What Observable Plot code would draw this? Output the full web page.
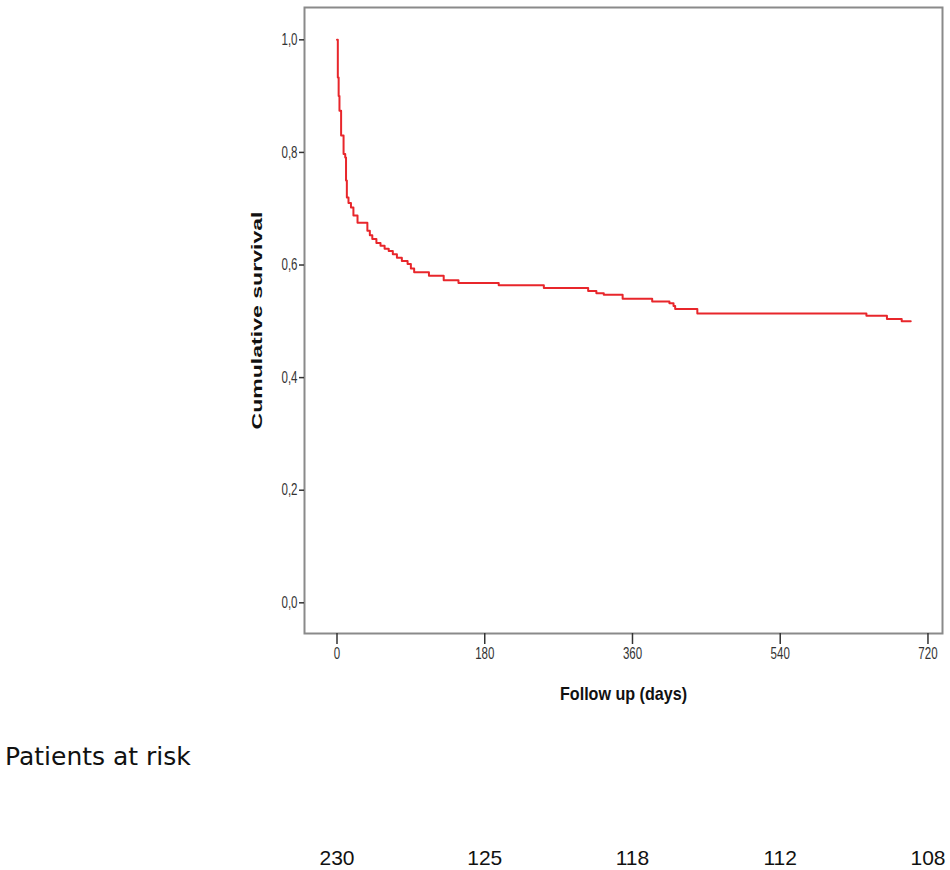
<!DOCTYPE html>
<html><head><meta charset="utf-8">
<script src="https://cdn.jsdelivr.net/npm/d3@7"></script>
<script src="https://cdn.jsdelivr.net/npm/@observablehq/plot@0.6"></script>
<style>
body{margin:0;background:#fff;}
#wrap{position:relative;width:950px;height:870px;overflow:hidden;}
#main{position:absolute;left:0;top:0;}
#risklabel{position:absolute;left:5px;top:744px;font:25px/1 'DejaVu Sans',sans-serif;color:#111;white-space:nowrap;}
#risk{position:absolute;left:0;top:836px;}
</style></head><body>
<div id="wrap"><div id="main"></div><div id="risklabel">Patients at risk</div><div id="risk"></div></div>
<script>
// Kaplan-Meier step points (time in days, cumulative survival from that time on)
const days = [0, 1, 2, 3, 5, 8, 10, 11, 12, 14, 17, 20, 25, 37, 40, 43, 48, 53, 58, 63, 68, 73, 79, 86, 90, 94, 112, 130, 148, 197, 252, 306, 316, 325, 348, 384, 405, 410, 412, 439, 645, 670, 688, 699];
const survival = [1.0, 0.933, 0.90, 0.874, 0.83, 0.797, 0.791, 0.75, 0.72, 0.71, 0.702, 0.688, 0.675, 0.661, 0.653, 0.646, 0.639, 0.634, 0.629, 0.625, 0.619, 0.613, 0.607, 0.602, 0.594, 0.587, 0.581, 0.573, 0.568, 0.564, 0.559, 0.554, 0.550, 0.547, 0.540, 0.535, 0.532, 0.527, 0.522, 0.514, 0.510, 0.504, 0.500, 0.500];
const xTicks = [0, 180, 360, 540, 720];
const yTicks = [0, 0.2, 0.4, 0.6, 0.8, 1.0];
const riskDays = [0, 180, 360, 540, 720];
const riskCounts = [230, 125, 118, 112, 108];

const km = days.map((d, i) => ({day: d, s: survival[i]}));
const xDomain = [-39.6, 737.7];
const sans = "'Liberation Sans', Arial, sans-serif";

const chart = Plot.plot({
  width: 950,
  height: 710,
  marginLeft: 304,
  marginRight: 8,
  marginTop: 7,
  marginBottom: 77,
  style: {fontFamily: sans, fontSize: "16px", color: "#333", background: "#fff"},
  x: {domain: xDomain},
  y: {domain: [-0.0545, 1.0574]},
  marks: [
    Plot.frame({stroke: "#8a8a8a", strokeWidth: 2}),
    Plot.axisX({ticks: xTicks, tickSize: 11, tickPadding: 3, tickFormat: d => String(d),
      label: "Follow up (days)", labelAnchor: "center", labelArrow: "none", labelOffset: 66, stroke: "#333", strokeWidth: 1.5}),
    Plot.axisY({ticks: yTicks, tickSize: 5, tickPadding: 2, tickFormat: d => d.toFixed(1).replace(".", ","),
      label: "Cumulative survival", labelAnchor: "center", labelArrow: "none", labelOffset: 53, stroke: "#333", strokeWidth: 1.5}),
    Plot.line(km, {x: "day", y: "s", curve: "step-after", stroke: "#e8262b", strokeWidth: 2})
  ]
});
document.getElementById("main").appendChild(chart);

// emulate the vertically stretched SPSS text
const svg = d3.select(chart);
svg.selectAll('g[aria-label="x-axis tick label"] text, g[aria-label="y-axis tick label"] text').each(function() {
  const len = this.getComputedTextLength();
  d3.select(this).attr("textLength", len * 0.72).attr("lengthAdjust", "spacingAndGlyphs");
});
svg.selectAll('g[aria-label="x-axis label"] text')
  .style("font-family", sans).style("font-weight", "bold").style("font-size", "19px").style("fill", "#111")
  .attr("textLength", 127).attr("lengthAdjust", "spacingAndGlyphs");
svg.selectAll('g[aria-label="y-axis label"] text')
  .style("font-family", sans).style("font-weight", "bold").style("font-size", "15px").style("fill", "#111")
  .attr("textLength", 218).attr("lengthAdjust", "spacingAndGlyphs");

const risk = Plot.plot({
  width: 950,
  height: 34,
  marginLeft: 304,
  marginRight: 8,
  marginTop: 0,
  marginBottom: 0,
  style: {fontFamily: sans, fontSize: "21px", color: "#111", background: "transparent", overflow: "visible"},
  x: {domain: xDomain, axis: null},
  marks: [
    Plot.text(riskDays, {x: d => d, text: (d, i) => String(riskCounts[i]), frameAnchor: "middle", dy: 5, fill: "#111", fontSize: 21})
  ]
});
document.getElementById("risk").appendChild(risk);
</script>
</body></html>
